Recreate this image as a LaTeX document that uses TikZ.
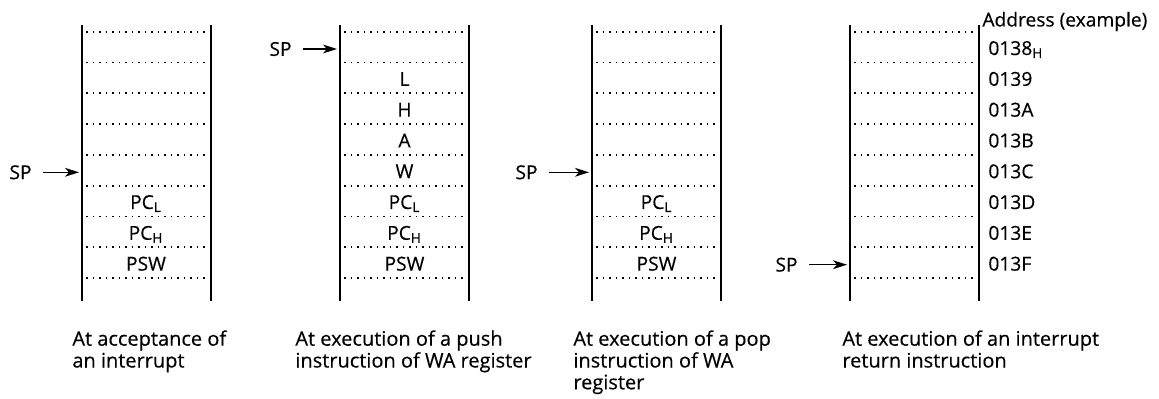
\documentclass[tikz,border=0pt]{standalone}
\usepackage{fontspec}
\setmainfont[FakeBold=0.35]{Open Sans}
\usepackage{tikz}
\usetikzlibrary{positioning, arrows.meta}

\begin{document}
\begin{tikzpicture}[
    x=0.5pt, y=-0.5pt,
    node distance=25pt,
    wall/.style={line width=1pt},
    slot/.style={line width=0.95pt, dash pattern=on 0.95pt off 2.3pt},
    cell/.style={anchor=base, inner sep=0pt, font=\fontsize{9.6}{11}\selectfont},
    addr/.style={anchor=base west, inner sep=0pt, font=\fontsize{9.6}{11}\selectfont},
    ptr/.style={inner sep=0pt, font=\fontsize{9.6}{11}\selectfont},
    arr/.style={-{Stealth[length=7pt, width=4.4pt, inset=2pt]}, line width=0.7pt, shorten <=5.5pt, shorten >=1.5pt},
    desc/.style={anchor=north west, align=left, inner sep=0pt, font=\fontsize{10}{10.9}\selectfont}
]
\useasboundingbox (0,0) rectangle (1159,399);

% stack frames
\foreach \x in {82,340,592,850} {
    \draw[wall] (\x,25) -- (\x,301);
    \draw[wall] (\x+129,25) -- (\x+129,301);
    \foreach \k in {0,...,8}
        \draw[slot] (\x+4,31.7+\k*30.8) -- (\x+125,31.7+\k*30.8);
}

% at acceptance of an interrupt
\node[cell] (pcl1) at (146,209) {PC\textsubscript{L}};
\node[cell] (pch1) at (146,239.8) {PC\textsubscript{H}};
\node[cell] (psw1) at (146,270.6) {PSW};
\coordinate (in1) at (82,172.3);
\node[ptr, left=of in1] (sp1) {SP};
\draw[arr] (sp1) -- (in1);

% push of WA
\node[cell] (l2) at (404.5,85.8) {L};
\node[cell] (h2) at (404.5,116.6) {H};
\node[cell] (a2) at (404.5,147.4) {A};
\node[cell] (w2) at (404.5,178.2) {W};
\node[cell] (pcl2) at (404.5,209) {PC\textsubscript{L}};
\node[cell] (pch2) at (404.5,239.8) {PC\textsubscript{H}};
\node[cell] (psw2) at (404.5,270.6) {PSW};
\coordinate (in2) at (340,49);
\node[ptr, left=24pt of in2] (sp2) {SP};
\draw[arr] (sp2) -- (in2);

% pop of WA
\node[cell] (pcl3) at (656.5,209) {PC\textsubscript{L}};
\node[cell] (pch3) at (656.5,239.8) {PC\textsubscript{H}};
\node[cell] (psw3) at (656.5,270.6) {PSW};
\coordinate (in3) at (592,172.3);
\node[ptr, left=27pt of in3] (sp3) {SP};
\draw[arr] (sp3) -- (in3);

% interrupt return, with example addresses
\node[addr] (title) at (982,26.5) {Address (example)};
\node[addr] (a138) at (988,55) {0138\textsubscript{H}};
\node[addr] (a139) at (988,85.8) {0139};
\node[addr] (a13a) at (988,116.6) {013A};
\node[addr] (a13b) at (988,147.4) {013B};
\node[addr] (a13c) at (988,178.2) {013C};
\node[addr] (a13d) at (988,209) {013D};
\node[addr] (a13e) at (988,239.8) {013E};
\node[addr] (a13f) at (988,270.6) {013F};
\coordinate (in4) at (850,264.7);
\node[ptr, left=26pt of in4] (sp4) {SP};
\draw[arr] (sp4) -- (in4);

% captions
\node[desc] (cap1) at (72,330) {At acceptance of\\an interrupt};
\node[desc] (cap2) at (295,330) {At execution of a push\\instruction of WA register};
\node[desc] (cap3) at (573,330) {At execution of a pop\\instruction of WA\\register};
\node[desc] (cap4) at (842,330) {At execution of an interrupt\\return instruction};

\end{tikzpicture}
\end{document}
